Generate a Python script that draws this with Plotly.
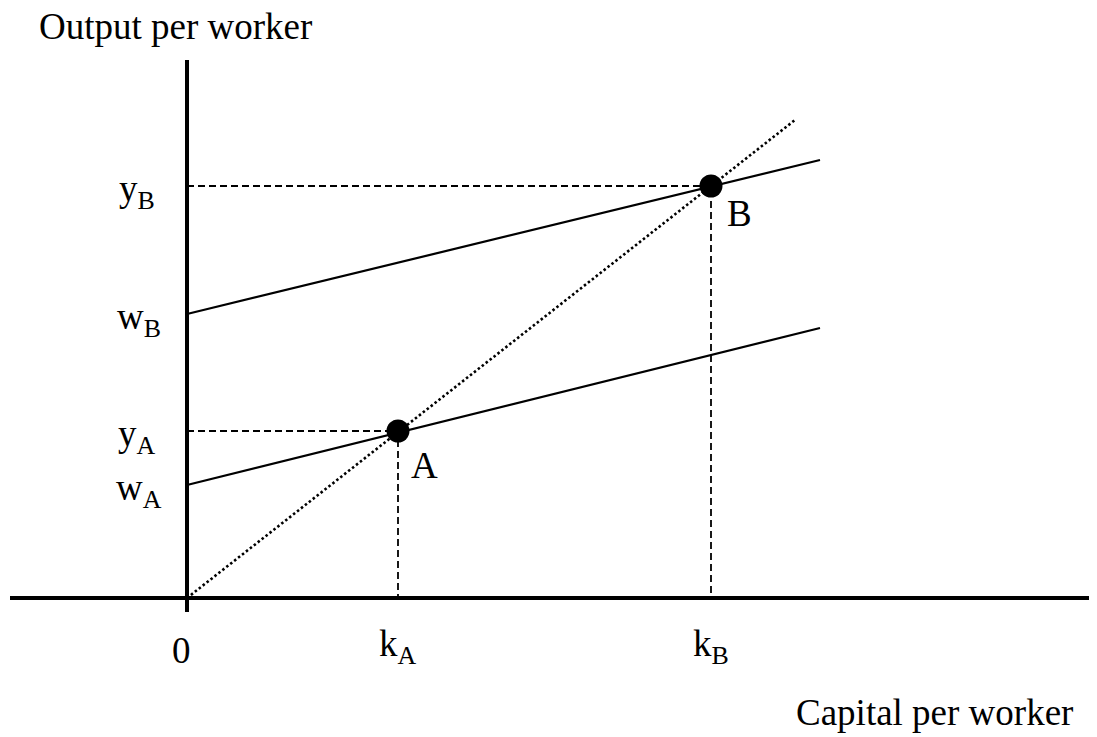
import plotly.graph_objects as go

# точки равновесия (в условных единицах, начало координат = 0)
k_vals = [211, 524]          # kA, kB
y_vals = [167, 412]          # yA, yB
w_vals = [113, 284]          # wA, wB
point_names = ["A", "B"]

# концы прямых
line_x = [0, 633]
line_a_y = [113, 270]
line_b_y = [284, 438]
ray_x = [0, 608]
ray_y = [0, 478]

# оси
x_axis_x = [-177, 910]
y_axis_y = [-14, 538]

font = dict(family="Liberation Serif", size=37, color="black")

fig = go.Figure()

# оси
fig.add_trace(go.Scatter(x=x_axis_x, y=[0, 0], mode="lines",
                         line=dict(color="black", width=4), hoverinfo="skip"))
fig.add_trace(go.Scatter(x=[0, 0], y=y_axis_y, mode="lines",
                         line=dict(color="black", width=4), hoverinfo="skip"))

# пунктирные проекции
for k, y in zip(k_vals, y_vals):
    fig.add_trace(go.Scatter(x=[0, k, k], y=[y, y, 0], mode="lines",
                             line=dict(color="black", width=1.8, dash="7px,4px"),
                             hoverinfo="skip"))

# луч из начала координат
fig.add_trace(go.Scatter(x=ray_x, y=ray_y, mode="lines",
                         line=dict(color="black", width=2.6, dash="2.5px,2.5px"),
                         hoverinfo="skip"))

# линии wA и wB
fig.add_trace(go.Scatter(x=line_x, y=line_a_y, mode="lines",
                         line=dict(color="black", width=2.2), hoverinfo="skip"))
fig.add_trace(go.Scatter(x=line_x, y=line_b_y, mode="lines",
                         line=dict(color="black", width=2.2), hoverinfo="skip"))

# точки A и B
fig.add_trace(go.Scatter(x=k_vals, y=y_vals, mode="markers",
                         marker=dict(color="black", size=23), hoverinfo="skip"))

point_shift = {"A": (26, -34), "B": (28, -27)}
ann = []
for k, y, name in zip(k_vals, y_vals, point_names):
    dx, dy = point_shift[name]
    ann.append(dict(x=k, y=y, text=name, xshift=dx, yshift=dy))
    ann.append(dict(x=0, y=y, text="y<sub>" + name + "</sub>", xshift=-50, yshift=-5))
    ann.append(dict(x=k, y=0, text="k<sub>" + name + "</sub>", xshift=0, yshift=-48))
for w, name in zip(w_vals, point_names):
    ann.append(dict(x=0, y=w, text="w<sub>" + name + "</sub>", xshift=-48, yshift=-5))
ann.append(dict(x=0, y=0, text="0", xshift=-6, yshift=-52))
ann.append(dict(x=0, y=y_axis_y[1], text="Output per worker", xshift=-12, yshift=34))
ann.append(dict(x=x_axis_x[1], y=0, text="Capital per worker", xshift=-163, yshift=-114))

for a in ann:
    a.update(xref="x", yref="y", showarrow=False, font=font)

# страница сдвигает график на 8px (отступ body), поэтому диапазоны смещены
fig.update_layout(
    width=1097, height=737,
    margin=dict(l=0, r=0, t=0, b=0),
    paper_bgcolor="white", plot_bgcolor="white",
    showlegend=False,
    xaxis=dict(range=[-179, 918], visible=False, fixedrange=True),
    yaxis=dict(range=[-147, 590], visible=False, fixedrange=True),
    annotations=ann,
)

fig.write_html("out.html")
